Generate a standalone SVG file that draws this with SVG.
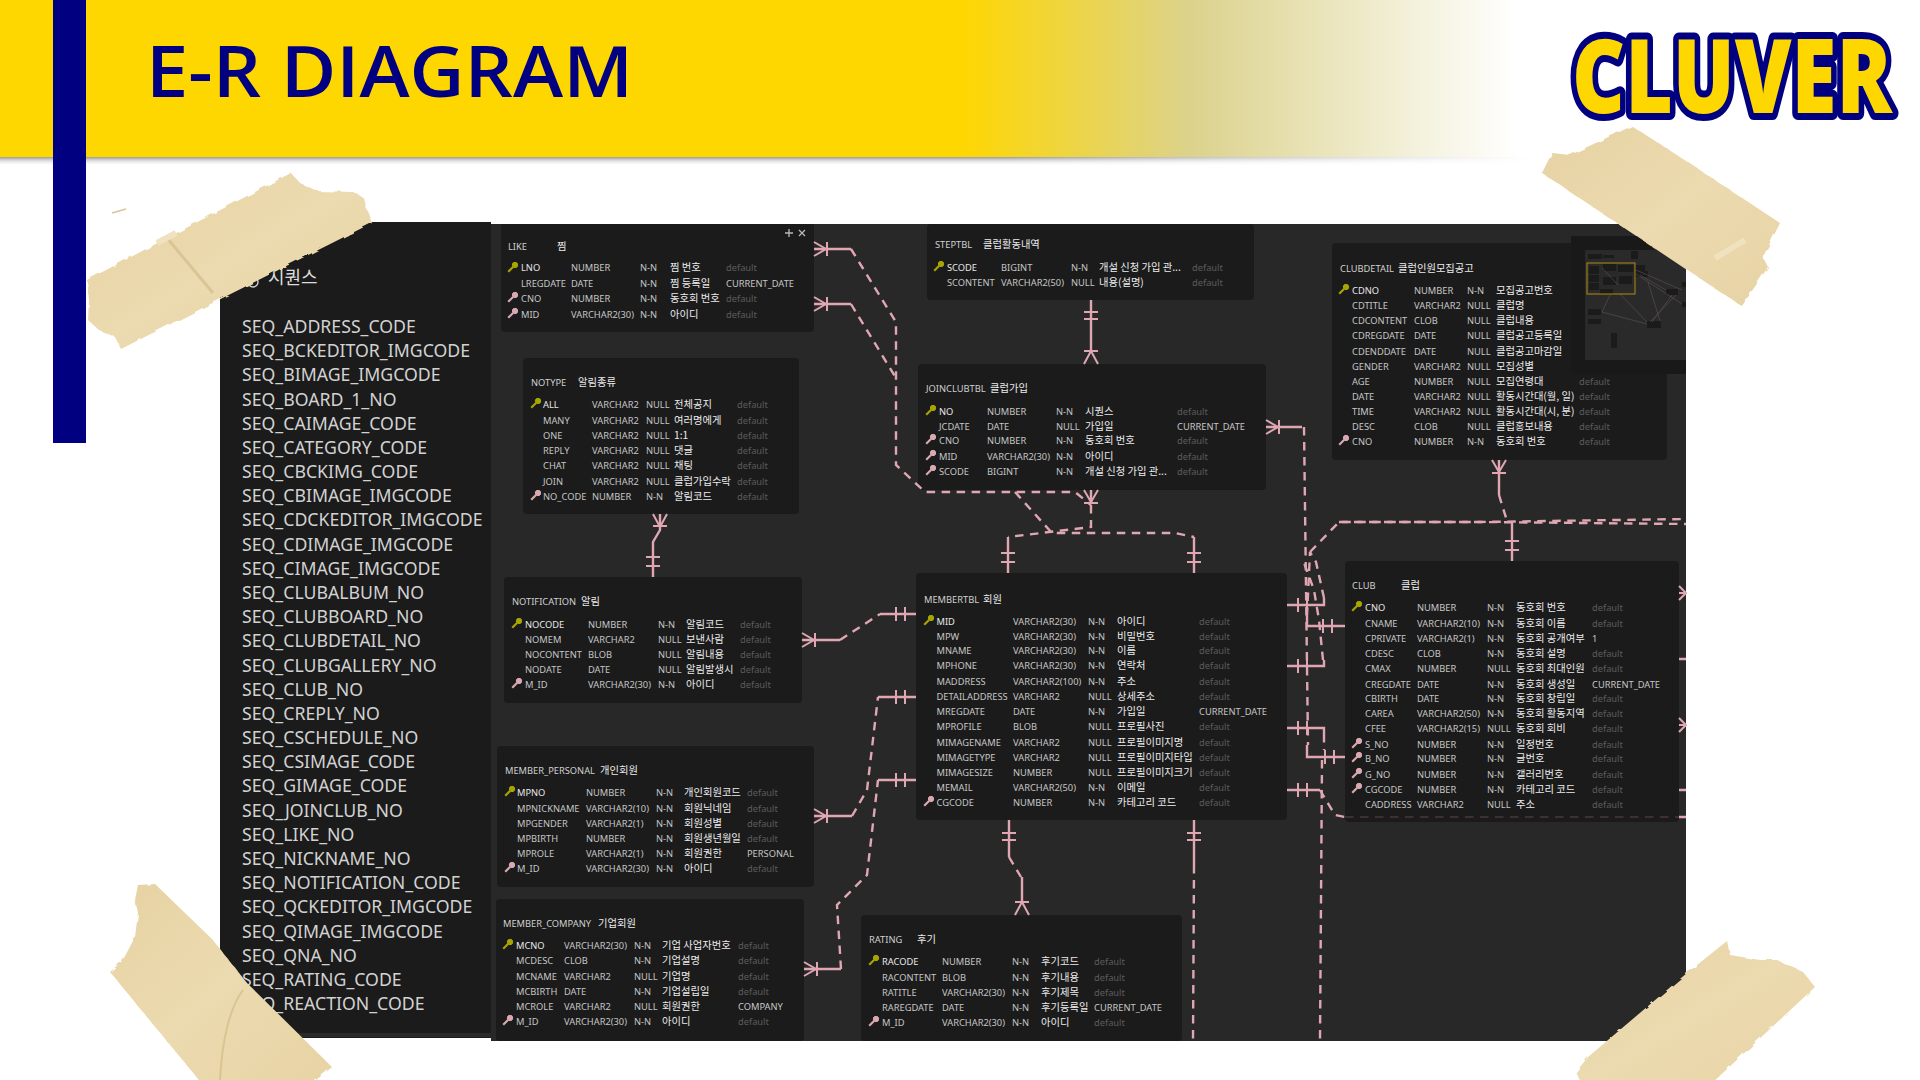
<svg xmlns="http://www.w3.org/2000/svg" width="1920" height="1080" viewBox="0 0 1920 1080">
<style>
text{font-family:"Noto Sans","Noto Sans CJK KR",sans-serif;white-space:pre}
.r{font-size:9.3px;fill:#c6c6c6}
.h{font-size:9.3px;fill:#d0d0d0}
.m{fill:#ececec;font-size:10.3px;font-family:"Noto Sans CJK KR","Noto Sans",sans-serif}
.f{fill:#5c5c5c}
.p{fill:#e8e8e8}
.tb{fill:#1b1b1b}
.pk{fill:#a8a400;stroke:#a8a400}
.fk{fill:#d9a9b2;stroke:#d9a9b2}
.c,.d,.x{fill:none;stroke:#e0a7b3;stroke-width:2.4}
.x{stroke-width:2}
.d{stroke-dasharray:8.5 6.5}
.cf{marker-start:url(#crow)}
.tk{marker-end:url(#ticks)}
.seq{font-size:17.7px;fill:#d2d2d2}
.tape{fill:url(#tp);filter:url(#rough)}
.mb{fill:#1b1b1b}
.ml{stroke:#5f5254;stroke-width:.6;fill:none}
</style>
<defs>
<linearGradient id="hd" gradientUnits="userSpaceOnUse" x1="0" y1="0" x2="1920" y2="0">
<stop offset="0" stop-color="#FFD700"/><stop offset=".5" stop-color="#FFD700"/><stop offset=".62" stop-color="#DBD28C"/><stop offset=".79" stop-color="#fff"/>
</linearGradient>
<linearGradient id="sh" x1="0" y1="0" x2="0" y2="1"><stop offset="0" stop-color="#9a9a9a"/><stop offset="1" stop-color="#fff" stop-opacity="0"/></linearGradient>
<linearGradient id="shf" gradientUnits="userSpaceOnUse" x1="1000" y1="0" x2="1530" y2="0"><stop offset="0" stop-color="#fff" stop-opacity="0"/><stop offset="1" stop-color="#fff"/></linearGradient>
<linearGradient id="tp" x1="0" y1="0" x2="1" y2="1"><stop offset="0" stop-color="#e6d2a2"/><stop offset=".5" stop-color="#ecdab0"/><stop offset="1" stop-color="#e7d3a4"/></linearGradient>
<filter id="rough" x="-5%" y="-5%" width="110%" height="110%"><feTurbulence type="fractalNoise" baseFrequency=".09" numOctaves="2" seed="4"/><feDisplacementMap in="SourceGraphic" scale="4"/></filter>
<marker id="crow" markerUnits="userSpaceOnUse" markerWidth="30" markerHeight="30" refX="0" refY="15" viewBox="0 0 30 30" orient="auto" overflow="visible"><path d="M0 8L12 15L0 22M13 8V22" fill="none" stroke="#e0a7b3" stroke-width="2"/></marker>
<marker id="ticks" markerUnits="userSpaceOnUse" markerWidth="30" markerHeight="30" refX="30" refY="15" viewBox="0 0 30 30" orient="auto" overflow="visible"><path d="M10 8V22M19 8V22" fill="none" stroke="#e0a7b3" stroke-width="2"/></marker>
<g id="k"><circle cx="6" cy="-3" r="2.7" stroke-width="1"/><path d="M4-1L-.8 3.8" fill="none" stroke-width="2.2"/></g>
</defs>

<rect width="1920" height="1080" fill="#fff"/>
<g id="header">
<rect y="157" width="1530" height="9" fill="url(#sh)"/>
<rect x="1000" y="157" width="530" height="9" fill="url(#shf)"/>
<rect width="1530" height="157" fill="url(#hd)"/>
<rect x="53" width="33" height="443" fill="#000080"/>
<text x="146" y="97" font-size="70" font-weight="600" fill="#000080" style="font-family:'Open Sans',sans-serif" textLength="487" lengthAdjust="spacingAndGlyphs">E-R DIAGRAM</text>
</g>

<g id="sequence-panel">
<rect x="220" y="222" width="271" height="816" fill="#1b1b1b"/>
<rect x="220" y="1033" width="271" height="4" fill="#2a2a2a"/>
<circle cx="253" cy="282" r="5" fill="none" stroke="#d2d2d2" stroke-width="1.4"/>
<text x="268" y="284" font-size="18" fill="#dcdcdc" style="font-family:'Noto Sans CJK KR',sans-serif">시퀀스</text>
<text class="seq">
<tspan x="242" y="333">SEQ_ADDRESS_CODE</tspan>
<tspan x="242" y="357">SEQ_BCKEDITOR_IMGCODE</tspan>
<tspan x="242" y="381.4">SEQ_BIMAGE_IMGCODE</tspan>
<tspan x="242" y="405.5">SEQ_BOARD_1_NO</tspan>
<tspan x="242" y="429.7">SEQ_CAIMAGE_CODE</tspan>
<tspan x="242" y="453.9">SEQ_CATEGORY_CODE</tspan>
<tspan x="242" y="478.1">SEQ_CBCKIMG_CODE</tspan>
<tspan x="242" y="502.3">SEQ_CBIMAGE_IMGCODE</tspan>
<tspan x="242" y="526.4">SEQ_CDCKEDITOR_IMGCODE</tspan>
<tspan x="242" y="550.6">SEQ_CDIMAGE_IMGCODE</tspan>
<tspan x="242" y="574.8">SEQ_CIMAGE_IMGCODE</tspan>
<tspan x="242" y="599">SEQ_CLUBALBUM_NO</tspan>
<tspan x="242" y="623.2">SEQ_CLUBBOARD_NO</tspan>
<tspan x="242" y="647.3">SEQ_CLUBDETAIL_NO</tspan>
<tspan x="242" y="671.5">SEQ_CLUBGALLERY_NO</tspan>
<tspan x="242" y="695.7">SEQ_CLUB_NO</tspan>
<tspan x="242" y="719.9">SEQ_CREPLY_NO</tspan>
<tspan x="242" y="744">SEQ_CSCHEDULE_NO</tspan>
<tspan x="242" y="768.2">SEQ_CSIMAGE_CODE</tspan>
<tspan x="242" y="792.4">SEQ_GIMAGE_CODE</tspan>
<tspan x="242" y="816.6">SEQ_JOINCLUB_NO</tspan>
<tspan x="242" y="840.8">SEQ_LIKE_NO</tspan>
<tspan x="242" y="864.9">SEQ_NICKNAME_NO</tspan>
<tspan x="242" y="889.1">SEQ_NOTIFICATION_CODE</tspan>
<tspan x="242" y="913.3">SEQ_QCKEDITOR_IMGCODE</tspan>
<tspan x="242" y="937.5">SEQ_QIMAGE_IMGCODE</tspan>
<tspan x="242" y="961.6">SEQ_QNA_NO</tspan>
<tspan x="242" y="985.8">SEQ_RATING_CODE</tspan>
<tspan x="242" y="1010">SEQ_REACTION_CODE</tspan>
</text>
</g>

<rect id="canvas" x="491" y="224" width="1195" height="817" fill="#282828"/>

<g id="LIKE">
<rect class="tb" x="501" y="218" width="313" height="114" rx="4"/>
<rect x="491" y="218" width="323" height="6" fill="#fff"/>
<text class="h" y="250"><tspan x="508">LIKE</tspan><tspan class="m" x="557">찜</tspan></text>
<path d="M785 233h8M789 229v8M799 230l6 6M805 230l-6 6" stroke="#b8b8b8" stroke-width="1.3" fill="none"/>
<use href="#k" class="pk" x="509" y="268"/><use href="#k" class="fk" x="509" y="298"/><use href="#k" class="fk" x="509" y="314"/>
<text class="r" y="271"><tspan class="p" x="521">LNO</tspan><tspan x="571">NUMBER</tspan><tspan x="640">N-N</tspan><tspan class="m" x="670">찜 번호</tspan><tspan class="f" x="726">default</tspan></text>
<text class="r" y="287"><tspan x="521">LREGDATE</tspan><tspan x="571">DATE</tspan><tspan x="640">N-N</tspan><tspan class="m" x="670">찜 등록일</tspan><tspan x="726">CURRENT_DATE</tspan></text>
<text class="r" y="302"><tspan x="521">CNO</tspan><tspan x="571">NUMBER</tspan><tspan x="640">N-N</tspan><tspan class="m" x="670">동호회 번호</tspan><tspan class="f" x="726">default</tspan></text>
<text class="r" y="318"><tspan x="521">MID</tspan><tspan x="571">VARCHAR2(30)</tspan><tspan x="640">N-N</tspan><tspan class="m" x="670">아이디</tspan><tspan class="f" x="726">default</tspan></text>
</g>

<g id="NOTYPE">
<rect class="tb" x="523" y="358" width="276" height="156" rx="4"/>
<text class="h" y="386"><tspan x="531">NOTYPE</tspan><tspan class="m" x="578">알림종류</tspan></text>
<use href="#k" class="pk" x="532" y="404"/><use href="#k" class="fk" x="532" y="496"/>
<text class="r" y="408"><tspan class="p" x="543">ALL</tspan><tspan x="592">VARCHAR2</tspan><tspan x="646">NULL</tspan><tspan class="m" x="674">전체공지</tspan><tspan class="f" x="737">default</tspan></text>
<text class="r" y="424"><tspan x="543">MANY</tspan><tspan x="592">VARCHAR2</tspan><tspan x="646">NULL</tspan><tspan class="m" x="674">여러명에게</tspan><tspan class="f" x="737">default</tspan></text>
<text class="r" y="439"><tspan x="543">ONE</tspan><tspan x="592">VARCHAR2</tspan><tspan x="646">NULL</tspan><tspan class="m" x="674">1:1</tspan><tspan class="f" x="737">default</tspan></text>
<text class="r" y="454"><tspan x="543">REPLY</tspan><tspan x="592">VARCHAR2</tspan><tspan x="646">NULL</tspan><tspan class="m" x="674">댓글</tspan><tspan class="f" x="737">default</tspan></text>
<text class="r" y="469"><tspan x="543">CHAT</tspan><tspan x="592">VARCHAR2</tspan><tspan x="646">NULL</tspan><tspan class="m" x="674">채팅</tspan><tspan class="f" x="737">default</tspan></text>
<text class="r" y="485"><tspan x="543">JOIN</tspan><tspan x="592">VARCHAR2</tspan><tspan x="646">NULL</tspan><tspan class="m" x="674">클럽가입수락</tspan><tspan class="f" x="737">default</tspan></text>
<text class="r" y="500"><tspan x="543">NO_CODE</tspan><tspan x="592">NUMBER</tspan><tspan x="646">N-N</tspan><tspan class="m" x="674">알림코드</tspan><tspan class="f" x="737">default</tspan></text>
</g>

<g id="STEPTBL">
<rect class="tb" x="927" y="224" width="327" height="76" rx="4"/>
<text class="h" y="248"><tspan x="935">STEPTBL</tspan><tspan class="m" x="983">클럽활동내역</tspan></text>
<use href="#k" class="pk" x="935" y="267"/>
<text class="r" y="271"><tspan class="p" x="947">SCODE</tspan><tspan x="1001">BIGINT</tspan><tspan x="1071">N-N</tspan><tspan class="m" x="1099">개설 신청 가입 관...</tspan><tspan class="f" x="1192">default</tspan></text>
<text class="r" y="286"><tspan x="947">SCONTENT</tspan><tspan x="1001">VARCHAR2(50)</tspan><tspan x="1071">NULL</tspan><tspan class="m" x="1099">내용(설명)</tspan><tspan class="f" x="1192">default</tspan></text>
</g>

<g id="JOINCLUBTBL">
<rect class="tb" x="918" y="364" width="348" height="126" rx="4"/>
<text class="h" y="392"><tspan x="926">JOINCLUBTBL</tspan><tspan class="m" x="990">클럽가입</tspan></text>
<use href="#k" class="pk" x="927" y="411"/><use href="#k" class="fk" x="927" y="440"/><use href="#k" class="fk" x="927" y="456"/><use href="#k" class="fk" x="927" y="471"/>
<text class="r" y="415"><tspan class="p" x="939">NO</tspan><tspan x="987">NUMBER</tspan><tspan x="1056">N-N</tspan><tspan class="m" x="1085">시퀀스</tspan><tspan class="f" x="1177">default</tspan></text>
<text class="r" y="430"><tspan x="939">JCDATE</tspan><tspan x="987">DATE</tspan><tspan x="1056">NULL</tspan><tspan class="m" x="1085">가입일</tspan><tspan x="1177">CURRENT_DATE</tspan></text>
<text class="r" y="444"><tspan x="939">CNO</tspan><tspan x="987">NUMBER</tspan><tspan x="1056">N-N</tspan><tspan class="m" x="1085">동호회 번호</tspan><tspan class="f" x="1177">default</tspan></text>
<text class="r" y="460"><tspan x="939">MID</tspan><tspan x="987">VARCHAR2(30)</tspan><tspan x="1056">N-N</tspan><tspan class="m" x="1085">아이디</tspan><tspan class="f" x="1177">default</tspan></text>
<text class="r" y="475"><tspan x="939">SCODE</tspan><tspan x="987">BIGINT</tspan><tspan x="1056">N-N</tspan><tspan class="m" x="1085">개설 신청 가입 관...</tspan><tspan class="f" x="1177">default</tspan></text>
</g>

<g id="CLUBDETAIL">
<rect class="tb" x="1332" y="243" width="335" height="217" rx="4"/>
<text class="h" y="272"><tspan x="1340">CLUBDETAIL</tspan><tspan class="m" x="1398">클럽인원모집공고</tspan></text>
<use href="#k" class="pk" x="1340" y="290"/><use href="#k" class="fk" x="1340" y="441"/>
<text class="r" y="294"><tspan class="p" x="1352">CDNO</tspan><tspan x="1414">NUMBER</tspan><tspan x="1467">N-N</tspan><tspan class="m" x="1496">모집공고번호</tspan></text>
<text class="r" y="309"><tspan x="1352">CDTITLE</tspan><tspan x="1414">VARCHAR2</tspan><tspan x="1467">NULL</tspan><tspan class="m" x="1496">클럽명</tspan></text>
<text class="r" y="324"><tspan x="1352">CDCONTENT</tspan><tspan x="1414">CLOB</tspan><tspan x="1467">NULL</tspan><tspan class="m" x="1496">클럽내용</tspan></text>
<text class="r" y="339"><tspan x="1352">CDREGDATE</tspan><tspan x="1414">DATE</tspan><tspan x="1467">NULL</tspan><tspan class="m" x="1496">클럽공고등록일</tspan></text>
<text class="r" y="355"><tspan x="1352">CDENDDATE</tspan><tspan x="1414">DATE</tspan><tspan x="1467">NULL</tspan><tspan class="m" x="1496">클럽공고마감일</tspan></text>
<text class="r" y="370"><tspan x="1352">GENDER</tspan><tspan x="1414">VARCHAR2</tspan><tspan x="1467">NULL</tspan><tspan class="m" x="1496">모집성별</tspan></text>
<text class="r" y="385"><tspan x="1352">AGE</tspan><tspan x="1414">NUMBER</tspan><tspan x="1467">NULL</tspan><tspan class="m" x="1496">모집연령대</tspan><tspan class="f" x="1579">default</tspan></text>
<text class="r" y="400"><tspan x="1352">DATE</tspan><tspan x="1414">VARCHAR2</tspan><tspan x="1467">NULL</tspan><tspan class="m" x="1496">활동시간대(월, 일)</tspan><tspan class="f" x="1579">default</tspan></text>
<text class="r" y="415"><tspan x="1352">TIME</tspan><tspan x="1414">VARCHAR2</tspan><tspan x="1467">NULL</tspan><tspan class="m" x="1496">활동시간대(시, 분)</tspan><tspan class="f" x="1579">default</tspan></text>
<text class="r" y="430"><tspan x="1352">DESC</tspan><tspan x="1414">CLOB</tspan><tspan x="1467">NULL</tspan><tspan class="m" x="1496">클럽홍보내용</tspan><tspan class="f" x="1579">default</tspan></text>
<text class="r" y="445"><tspan x="1352">CNO</tspan><tspan x="1414">NUMBER</tspan><tspan x="1467">N-N</tspan><tspan class="m" x="1496">동호회 번호</tspan><tspan class="f" x="1579">default</tspan></text>
</g>

<g id="NOTIFICATION">
<rect class="tb" x="504" y="577" width="298" height="126" rx="4"/>
<text class="h" y="605"><tspan x="512">NOTIFICATION</tspan><tspan class="m" x="581">알림</tspan></text>
<use href="#k" class="pk" x="513" y="624"/><use href="#k" class="fk" x="513" y="684"/>
<text class="r" y="628"><tspan class="p" x="525">NOCODE</tspan><tspan x="588">NUMBER</tspan><tspan x="658">N-N</tspan><tspan class="m" x="686">알림코드</tspan><tspan class="f" x="740">default</tspan></text>
<text class="r" y="643"><tspan x="525">NOMEM</tspan><tspan x="588">VARCHAR2</tspan><tspan x="658">NULL</tspan><tspan class="m" x="686">보낸사람</tspan><tspan class="f" x="740">default</tspan></text>
<text class="r" y="658"><tspan x="525">NOCONTENT</tspan><tspan x="588">BLOB</tspan><tspan x="658">NULL</tspan><tspan class="m" x="686">알림내용</tspan><tspan class="f" x="740">default</tspan></text>
<text class="r" y="673"><tspan x="525">NODATE</tspan><tspan x="588">DATE</tspan><tspan x="658">NULL</tspan><tspan class="m" x="686">알림발생시</tspan><tspan class="f" x="740">default</tspan></text>
<text class="r" y="688"><tspan x="525">M_ID</tspan><tspan x="588">VARCHAR2(30)</tspan><tspan x="658">N-N</tspan><tspan class="m" x="686">아이디</tspan><tspan class="f" x="740">default</tspan></text>
</g>

<g id="MEMBER_PERSONAL">
<rect class="tb" x="497" y="746" width="317" height="141" rx="4"/>
<text class="h" y="774"><tspan x="505">MEMBER_PERSONAL</tspan><tspan class="m" x="600">개인회원</tspan></text>
<use href="#k" class="pk" x="506" y="792"/><use href="#k" class="fk" x="506" y="868"/>
<text class="r" y="796"><tspan class="p" x="517">MPNO</tspan><tspan x="586">NUMBER</tspan><tspan x="656">N-N</tspan><tspan class="m" x="684">개인회원코드</tspan><tspan class="f" x="747">default</tspan></text>
<text class="r" y="812"><tspan x="517">MPNICKNAME</tspan><tspan x="586">VARCHAR2(10)</tspan><tspan x="656">N-N</tspan><tspan class="m" x="684">회원닉네임</tspan><tspan class="f" x="747">default</tspan></text>
<text class="r" y="827"><tspan x="517">MPGENDER</tspan><tspan x="586">VARCHAR2(1)</tspan><tspan x="656">N-N</tspan><tspan class="m" x="684">회원성별</tspan><tspan class="f" x="747">default</tspan></text>
<text class="r" y="842"><tspan x="517">MPBIRTH</tspan><tspan x="586">NUMBER</tspan><tspan x="656">N-N</tspan><tspan class="m" x="684">회원생년월일</tspan><tspan class="f" x="747">default</tspan></text>
<text class="r" y="857"><tspan x="517">MPROLE</tspan><tspan x="586">VARCHAR2(1)</tspan><tspan x="656">N-N</tspan><tspan class="m" x="684">회원권한</tspan><tspan x="747">PERSONAL</tspan></text>
<text class="r" y="872"><tspan x="517">M_ID</tspan><tspan x="586">VARCHAR2(30)</tspan><tspan x="656">N-N</tspan><tspan class="m" x="684">아이디</tspan><tspan class="f" x="747">default</tspan></text>
</g>

<g id="MEMBER_COMPANY">
<rect class="tb" x="496" y="899" width="308" height="142" rx="4"/>
<text class="h" y="927"><tspan x="503">MEMBER_COMPANY</tspan><tspan class="m" x="598">기업회원</tspan></text>
<use href="#k" class="pk" x="504" y="945"/><use href="#k" class="fk" x="504" y="1021"/>
<text class="r" y="949"><tspan class="p" x="516">MCNO</tspan><tspan x="564">VARCHAR2(30)</tspan><tspan x="634">N-N</tspan><tspan class="m" x="662">기업 사업자번호</tspan><tspan class="f" x="738">default</tspan></text>
<text class="r" y="964"><tspan x="516">MCDESC</tspan><tspan x="564">CLOB</tspan><tspan x="634">N-N</tspan><tspan class="m" x="662">기업설명</tspan><tspan class="f" x="738">default</tspan></text>
<text class="r" y="980"><tspan x="516">MCNAME</tspan><tspan x="564">VARCHAR2</tspan><tspan x="634">NULL</tspan><tspan class="m" x="662">기업명</tspan><tspan class="f" x="738">default</tspan></text>
<text class="r" y="995"><tspan x="516">MCBIRTH</tspan><tspan x="564">DATE</tspan><tspan x="634">N-N</tspan><tspan class="m" x="662">기업설립일</tspan><tspan class="f" x="738">default</tspan></text>
<text class="r" y="1010"><tspan x="516">MCROLE</tspan><tspan x="564">VARCHAR2</tspan><tspan x="634">NULL</tspan><tspan class="m" x="662">회원권한</tspan><tspan x="738">COMPANY</tspan></text>
<text class="r" y="1025"><tspan x="516">M_ID</tspan><tspan x="564">VARCHAR2(30)</tspan><tspan x="634">N-N</tspan><tspan class="m" x="662">아이디</tspan><tspan class="f" x="738">default</tspan></text>
</g>

<g id="RATING">
<rect class="tb" x="861" y="915" width="321" height="126" rx="4"/>
<text class="h" y="943"><tspan x="869">RATING</tspan><tspan class="m" x="917">후기</tspan></text>
<use href="#k" class="pk" x="870" y="961"/><use href="#k" class="fk" x="870" y="1022"/>
<text class="r" y="965"><tspan class="p" x="882">RACODE</tspan><tspan x="942">NUMBER</tspan><tspan x="1012">N-N</tspan><tspan class="m" x="1041">후기코드</tspan><tspan class="f" x="1094">default</tspan></text>
<text class="r" y="981"><tspan x="882">RACONTENT</tspan><tspan x="942">BLOB</tspan><tspan x="1012">N-N</tspan><tspan class="m" x="1041">후기내용</tspan><tspan class="f" x="1094">default</tspan></text>
<text class="r" y="996"><tspan x="882">RATITLE</tspan><tspan x="942">VARCHAR2(30)</tspan><tspan x="1012">N-N</tspan><tspan class="m" x="1041">후기제목</tspan><tspan class="f" x="1094">default</tspan></text>
<text class="r" y="1011"><tspan x="882">RAREGDATE</tspan><tspan x="942">DATE</tspan><tspan x="1012">N-N</tspan><tspan class="m" x="1041">후기등록일</tspan><tspan x="1094">CURRENT_DATE</tspan></text>
<text class="r" y="1026"><tspan x="882">M_ID</tspan><tspan x="942">VARCHAR2(30)</tspan><tspan x="1012">N-N</tspan><tspan class="m" x="1041">아이디</tspan><tspan class="f" x="1094">default</tspan></text>
</g>

<g id="MEMBERTBL">
<rect class="tb" x="916" y="573" width="371" height="247" rx="4"/>
<text class="h" y="603"><tspan x="924">MEMBERTBL</tspan><tspan class="m" x="983">회원</tspan></text>
<use href="#k" class="pk" x="925" y="621"/><use href="#k" class="fk" x="925" y="802"/>
<text class="r" y="625"><tspan class="p" x="936.5">MID</tspan><tspan x="1013">VARCHAR2(30)</tspan><tspan x="1088">N-N</tspan><tspan class="m" x="1117">아이디</tspan><tspan class="f" x="1199">default</tspan></text>
<text class="r" y="640"><tspan x="936.5">MPW</tspan><tspan x="1013">VARCHAR2(30)</tspan><tspan x="1088">N-N</tspan><tspan class="m" x="1117">비밀번호</tspan><tspan class="f" x="1199">default</tspan></text>
<text class="r" y="654"><tspan x="936.5">MNAME</tspan><tspan x="1013">VARCHAR2(30)</tspan><tspan x="1088">N-N</tspan><tspan class="m" x="1117">이름</tspan><tspan class="f" x="1199">default</tspan></text>
<text class="r" y="669"><tspan x="936.5">MPHONE</tspan><tspan x="1013">VARCHAR2(30)</tspan><tspan x="1088">N-N</tspan><tspan class="m" x="1117">연락처</tspan><tspan class="f" x="1199">default</tspan></text>
<text class="r" y="685"><tspan x="936.5">MADDRESS</tspan><tspan x="1013">VARCHAR2(100)</tspan><tspan x="1088">N-N</tspan><tspan class="m" x="1117">주소</tspan><tspan class="f" x="1199">default</tspan></text>
<text class="r" y="700"><tspan x="936.5">DETAILADDRESS</tspan><tspan x="1013">VARCHAR2</tspan><tspan x="1088">NULL</tspan><tspan class="m" x="1117">상세주소</tspan><tspan class="f" x="1199">default</tspan></text>
<text class="r" y="715"><tspan x="936.5">MREGDATE</tspan><tspan x="1013">DATE</tspan><tspan x="1088">N-N</tspan><tspan class="m" x="1117">가입일</tspan><tspan x="1199">CURRENT_DATE</tspan></text>
<text class="r" y="730"><tspan x="936.5">MPROFILE</tspan><tspan x="1013">BLOB</tspan><tspan x="1088">NULL</tspan><tspan class="m" x="1117">프로필사진</tspan><tspan class="f" x="1199">default</tspan></text>
<text class="r" y="746"><tspan x="936.5">MIMAGENAME</tspan><tspan x="1013">VARCHAR2</tspan><tspan x="1088">NULL</tspan><tspan class="m" x="1117">프로필이미지명</tspan><tspan class="f" x="1199">default</tspan></text>
<text class="r" y="761"><tspan x="936.5">MIMAGETYPE</tspan><tspan x="1013">VARCHAR2</tspan><tspan x="1088">NULL</tspan><tspan class="m" x="1117">프로필이미지타입</tspan><tspan class="f" x="1199">default</tspan></text>
<text class="r" y="776"><tspan x="936.5">MIMAGESIZE</tspan><tspan x="1013">NUMBER</tspan><tspan x="1088">NULL</tspan><tspan class="m" x="1117">프로필이미지크기</tspan><tspan class="f" x="1199">default</tspan></text>
<text class="r" y="791"><tspan x="936.5">MEMAIL</tspan><tspan x="1013">VARCHAR2(50)</tspan><tspan x="1088">N-N</tspan><tspan class="m" x="1117">이메일</tspan><tspan class="f" x="1199">default</tspan></text>
<text class="r" y="806"><tspan x="936.5">CGCODE</tspan><tspan x="1013">NUMBER</tspan><tspan x="1088">N-N</tspan><tspan class="m" x="1117">카테고리 코드</tspan><tspan class="f" x="1199">default</tspan></text>
</g>

<g id="CLUB">
<rect class="tb" x="1345" y="561" width="334" height="261" rx="4"/>
<text class="h" y="589"><tspan x="1352">CLUB</tspan><tspan class="m" x="1401">클럽</tspan></text>
<use href="#k" class="pk" x="1353" y="607"/><use href="#k" class="fk" x="1353" y="744"/><use href="#k" class="fk" x="1353" y="758"/><use href="#k" class="fk" x="1353" y="774"/><use href="#k" class="fk" x="1353" y="789"/>
<text class="r" y="611"><tspan class="p" x="1365">CNO</tspan><tspan x="1417">NUMBER</tspan><tspan x="1487">N-N</tspan><tspan class="m" x="1516">동호회 번호</tspan><tspan class="f" x="1592">default</tspan></text>
<text class="r" y="627"><tspan x="1365">CNAME</tspan><tspan x="1417">VARCHAR2(10)</tspan><tspan x="1487">N-N</tspan><tspan class="m" x="1516">동호회 이름</tspan><tspan class="f" x="1592">default</tspan></text>
<text class="r" y="642"><tspan x="1365">CPRIVATE</tspan><tspan x="1417">VARCHAR2(1)</tspan><tspan x="1487">N-N</tspan><tspan class="m" x="1516">동호회 공개여부</tspan><tspan x="1592">1</tspan></text>
<text class="r" y="657"><tspan x="1365">CDESC</tspan><tspan x="1417">CLOB</tspan><tspan x="1487">N-N</tspan><tspan class="m" x="1516">동호회 설명</tspan><tspan class="f" x="1592">default</tspan></text>
<text class="r" y="672"><tspan x="1365">CMAX</tspan><tspan x="1417">NUMBER</tspan><tspan x="1487">NULL</tspan><tspan class="m" x="1516">동호회 최대인원</tspan><tspan class="f" x="1592">default</tspan></text>
<text class="r" y="688"><tspan x="1365">CREGDATE</tspan><tspan x="1417">DATE</tspan><tspan x="1487">N-N</tspan><tspan class="m" x="1516">동호회 생성일</tspan><tspan x="1592">CURRENT_DATE</tspan></text>
<text class="r" y="702"><tspan x="1365">CBIRTH</tspan><tspan x="1417">DATE</tspan><tspan x="1487">N-N</tspan><tspan class="m" x="1516">동호회 창립일</tspan><tspan class="f" x="1592">default</tspan></text>
<text class="r" y="717"><tspan x="1365">CAREA</tspan><tspan x="1417">VARCHAR2(50)</tspan><tspan x="1487">N-N</tspan><tspan class="m" x="1516">동호회 활동지역</tspan><tspan class="f" x="1592">default</tspan></text>
<text class="r" y="732"><tspan x="1365">CFEE</tspan><tspan x="1417">VARCHAR2(15)</tspan><tspan x="1487">NULL</tspan><tspan class="m" x="1516">동호회 회비</tspan><tspan class="f" x="1592">default</tspan></text>
<text class="r" y="748"><tspan x="1365">S_NO</tspan><tspan x="1417">NUMBER</tspan><tspan x="1487">N-N</tspan><tspan class="m" x="1516">일정번호</tspan><tspan class="f" x="1592">default</tspan></text>
<text class="r" y="762"><tspan x="1365">B_NO</tspan><tspan x="1417">NUMBER</tspan><tspan x="1487">N-N</tspan><tspan class="m" x="1516">글번호</tspan><tspan class="f" x="1592">default</tspan></text>
<text class="r" y="778"><tspan x="1365">G_NO</tspan><tspan x="1417">NUMBER</tspan><tspan x="1487">N-N</tspan><tspan class="m" x="1516">갤러리번호</tspan><tspan class="f" x="1592">default</tspan></text>
<text class="r" y="793"><tspan x="1365">CGCODE</tspan><tspan x="1417">NUMBER</tspan><tspan x="1487">N-N</tspan><tspan class="m" x="1516">카테고리 코드</tspan><tspan class="f" x="1592">default</tspan></text>
<text class="r" y="808"><tspan x="1365">CADDRESS</tspan><tspan x="1417">VARCHAR2</tspan><tspan x="1487">NULL</tspan><tspan class="m" x="1516">주소</tspan><tspan class="f" x="1592">default</tspan></text>
</g>

<g id="connectors">
<path class="c cf" d="M814 249H851"/><path class="d" d="M851 249L896 322V465L925 492H1075L1091 505"/>
<path class="c cf" d="M814 304H851"/><path class="d" d="M851 304L896 378"/>
<path class="c cf" d="M1091 490V504"/>
<path class="d" d="M1091 505V527L1008 537"/>
<path class="c tk" d="M1008 537V573"/>
<path class="d" d="M1015 492L1052 533H1175L1194 537"/>
<path class="c tk" d="M1194 537V573"/>
<path class="c" d="M1091 300V351"/><path class="x" d="M1084 312H1098M1084 319H1098M1084 351H1098M1091 351L1084 364M1091 351L1098 364"/>
<path class="c" d="M660 514V530L653 542V577"/><path class="x" d="M653 526H667M660 527L653 514M660 527L667 514M646 557H660M646 566H660"/>
<path class="c cf" d="M802 640H840"/><path class="d" d="M840 640L880 614"/><path class="c tk" d="M880 614H916"/>
<path class="c cf" d="M814 816H852"/><path class="d" d="M852 816L867 790L878 697"/><path class="c tk" d="M878 697H916"/>
<path class="c cf" d="M804 969H841"/><path class="d" d="M841 969L837 905L867 875L878 780"/><path class="c tk" d="M878 780H916"/>
<path class="c" d="M1009 820V857"/><path class="x" d="M1002 833H1016M1002 840H1016"/><path class="d" d="M1009 857L1021 877"/>
<path class="c" d="M1022 877V902"/><path class="x" d="M1015 902H1029M1022 902L1015 915M1022 902L1029 915"/>
<path class="c" d="M1194 820V865"/><path class="x" d="M1187 833H1201M1187 840H1201"/><path class="d" d="M1194 865L1193 1041"/>
<path class="c cf" d="M1266 427H1302"/><path class="d" d="M1304 427L1308 745"/>
<path class="c tk" d="M1307 745V757H1345"/>
<path class="c cf" d="M1499 460V495"/><path class="d" d="M1499 495L1507 521"/>
<path class="c tk" d="M1512 521V561"/>
<path class="d" d="M1310 552L1339 522H1480L1686 519"/>
<path class="d" d="M1339 522H1480L1686 524"/>
<path class="c" d="M1287 605H1324V598"/><path class="x" d="M1298 598V612M1307 598V612"/><path class="d" d="M1324 598L1316 562L1310 552"/>
<path class="c" d="M1345 626H1307V616"/><path class="x" d="M1323 619V633M1332 619V633"/><path class="d" d="M1307 616L1310 552"/>
<path class="c" d="M1287 666H1324V660"/><path class="x" d="M1298 659V673M1307 659V673"/><path class="d" d="M1323 660L1319 620L1314 590L1303 560"/>
<path class="c" d="M1287 728H1324V734"/><path class="x" d="M1298 721V735M1307 721V735"/><path class="d" d="M1324 734V750"/>
<path class="c" d="M1287 790H1320"/><path class="x" d="M1298 783V797M1307 783V797"/><path class="d" d="M1320 790L1335 815L1345 817"/>
<path class="d" d="M1322 760L1320 1041"/>
<path d="M1345 817H1679" fill="none" stroke="#3d3033" stroke-width="2" stroke-dasharray="8.5 6.5"/>
<path class="c" d="M1679 817H1686M1679 659H1686M1679 790H1686"/>
<path class="x" d="M1679 586L1686 593L1679 600M1679 593H1686M1679 718L1686 725L1679 732M1679 725H1686"/>
</g>

<g id="minimap">
<rect x="1571" y="236" width="115" height="138" fill="#191919"/>
<rect x="1585" y="250" width="101" height="110" fill="#2a2a2a"/>
<path class="mb" d="M1588 254h14v5h-14zM1603 255h11v3h-11zM1631 251h7v8h-7zM1589 266h10v8h-10zM1589 275h10v7h-10zM1589 283h10v7h-10zM1603 264h13v7h-13zM1603 277h13v8h-13zM1618 265h15v7h-15zM1619 276h13v8h-13zM1600 289h13v5h-13zM1635 265h10v10h-10zM1635 271h13v6h-13zM1666 289h12v6h-12zM1682 282h4v5h-4zM1682 302h4v5h-4zM1588 309h13v6h-13zM1588 319h13v5h-13zM1647 321h14v7h-14zM1611 333h6v15h-6z"/>
<path class="ml" d="M1610 295L1602 312M1602 312L1647 324M1620 294L1647 322M1636 270L1682 290M1636 274L1682 304M1640 275L1666 290M1648 282L1660 321M1676 295L1650 322M1672 295L1652 322M1602 268L1618 285"/>
<rect x="1587" y="263" width="48" height="31" fill="none" stroke="#b08a10" stroke-width="1"/>
</g>

<g id="tapes">
<path class="tape" d="M291 173L300 183L317 191L353 192L364 198L367 210L372 223L121 349L115 337L99 330L88 320L89 300L87 280Z"/>
<path d="M167 238L213 293" stroke="#dac594" stroke-width="3" fill="none"/>
<path d="M157 243L176 233" stroke="#f0e2c0" stroke-width="6" fill="none"/>
<path d="M112 213L126 209" stroke="#d8c49a" stroke-width="1.5" fill="none"/>
<path class="tape" d="M1632 126L1700 170L1780 223L1774 235L1768 247L1763 257L1768 267L1742 306L1687 270L1590 205L1542 173L1552 153L1570 155Z"/>
<path d="M1715 258L1745 240" stroke="#f2e6c8" stroke-width="6" fill="none" opacity=".7"/>
<path class="tape" d="M138 885L155 884L213 940L247 983L332 1067L310 1085L203 1085L110 972L123 960L135 937L138 913L135 900Z"/>
<path d="M243 990C228 1010 222 1045 220 1080" stroke="#d9c592" stroke-width="2" fill="none"/>
<path class="tape" d="M1727 941L1730 955L1760 960L1777 960L1803 972L1815 987L1710 1085L1582 1085L1576 1072L1588 1057L1687 973Z"/>
</g>

<text id="logo" x="1572" y="113" font-size="102" font-weight="800" textLength="320" lengthAdjust="spacingAndGlyphs" fill="#FFD700" stroke="#000080" stroke-width="14" stroke-linejoin="round" paint-order="stroke" style="font-family:'Open Sans',sans-serif">CLUVER</text>
</svg>
